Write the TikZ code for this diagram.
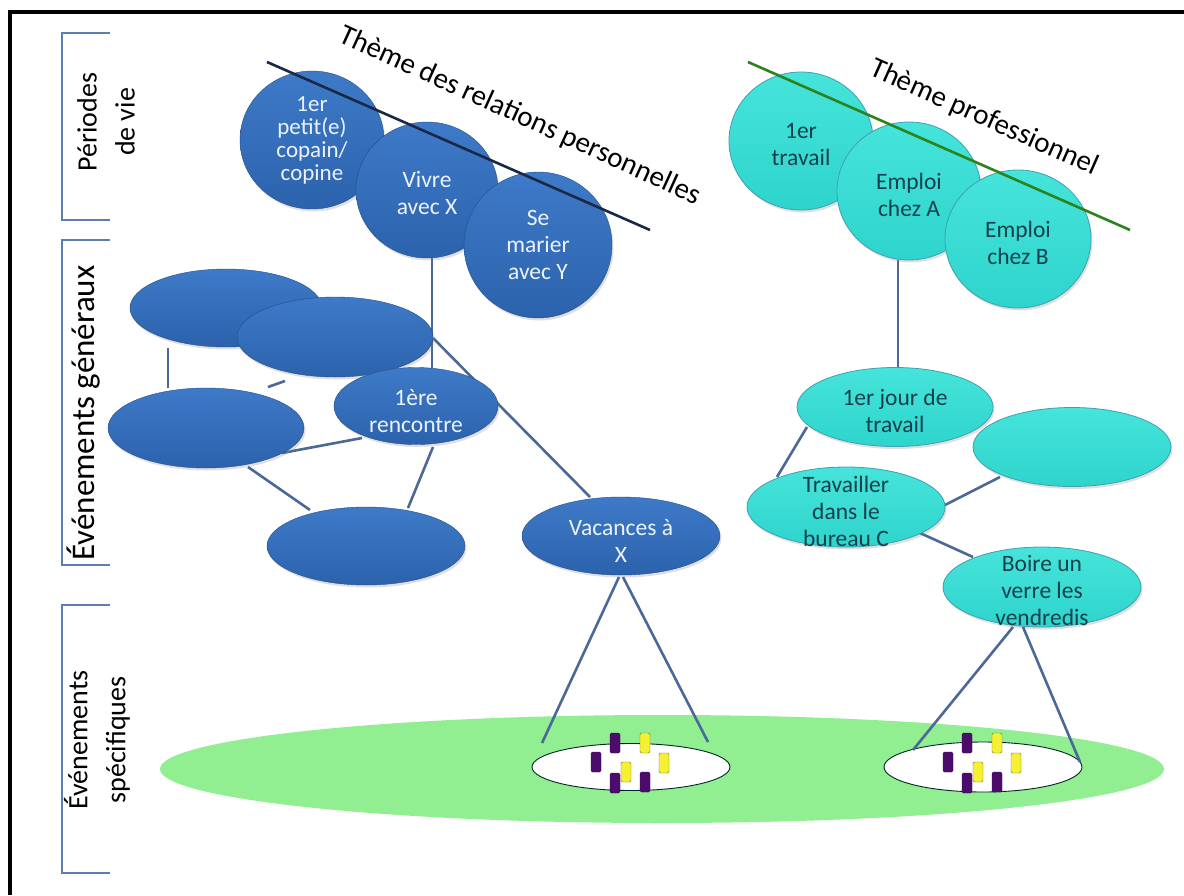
\documentclass[tikz,border=0pt]{standalone}
\usepackage{fontspec}
\setmainfont{Carlito}
\usetikzlibrary{shapes.geometric,calc,shadows}
\pgfdeclarelayer{back}
\pgfdeclarelayer{links}
\pgfsetlayers{back,links,main}

\definecolor{blueTop}{RGB}{62,122,200}
\definecolor{blueBot}{RGB}{44,98,172}
\definecolor{cyanTop}{RGB}{70,228,218}
\definecolor{cyanBot}{RGB}{46,212,204}
\definecolor{cyanEdge}{RGB}{62,160,178}
\definecolor{linkBlue}{RGB}{74,104,152}
\definecolor{braceBlue}{RGB}{92,126,176}
\definecolor{tealText}{RGB}{22,64,78}
\definecolor{paleText}{RGB}{236,243,252}
\definecolor{lawn}{RGB}{145,238,145}
\definecolor{plum}{RGB}{76,12,108}
\definecolor{lemon}{RGB}{246,240,50}
\definecolor{navyLine}{RGB}{26,40,72}
\definecolor{grassLine}{RGB}{44,130,30}

\begin{document}
\begin{tikzpicture}[x=1pt,y=-1pt,
  blob/.style={ellipse,inner sep=0pt,
    drop shadow={shadow xshift=1.5pt,shadow yshift=-2.5pt,opacity=0.25}},
  bluenode/.style={blob,top color=blueTop,bottom color=blueBot,draw=blueBot!80!black,line width=0.4pt},
  cyannode/.style={blob,top color=cyanTop,bottom color=cyanBot,draw=cyanEdge,line width=0.8pt},
  btext/.style={align=center,text=paleText,inner sep=0pt,font=\fontsize{23.5}{27}\selectfont},
  ctext/.style={align=center,text=tealText,inner sep=0pt,font=\fontsize{23.5}{27}\selectfont},
  conn/.style={draw=linkBlue,line width=2.6pt},
  brace/.style={draw=braceBlue,line width=2.6pt},
  side/.style={rotate=90,align=center,inner sep=0pt,font=\fontsize{28}{38}\selectfont},
  theme/.style={inner sep=0pt,font=\fontsize{29}{34}\selectfont},
  purplebar/.style={draw=plum!70!black,fill=plum,rounded corners=1.5pt,minimum width=10pt,minimum height=20pt,inner sep=0pt},
  yellowbar/.style={draw=olive!80!black,fill=lemon,rounded corners=1.5pt,minimum width=10pt,minimum height=20pt,inner sep=0pt},
  slot/.style={ellipse,draw=black!70!teal,line width=0.9pt,fill=white,inner sep=0pt}
]
\useasboundingbox (0,0) rectangle (1184,895);

% specific-event plane on the bottom layer
\begin{pgfonlayer}{back}
\fill[white] (0,0) rectangle (1184,895);
\node[ellipse,fill=lawn,minimum width=1004pt,minimum height=108pt,inner sep=0pt] (plane) at (662,769) {};
\end{pgfonlayer}

% frame
\draw[line width=4pt] (1184,12) -- (10,12) -- (10,895);

% side brackets and their labels
\draw[brace] (110,33) -- (62,33) -- (62,220) -- (110,220);
\draw[brace] (110,240) -- (62,240) -- (62,565) -- (110,565);
\draw[brace] (110,605) -- (62,605) -- (62,873) -- (110,873);
\node[side] (lblP) at (106,122) {Périodes\\de vie};
\node[side,font=\fontsize{33}{38}\selectfont] (lblG) at (84,413) {Événements généraux};
\node[side] (lblS) at (97,740) {Événements\\spécifiques};

% life periods, personal relationships
\node[bluenode,minimum width=144pt,minimum height=138pt,label={[btext,font=\fontsize{23}{23}\selectfont]center:{1er\\petit(e)\\copain/\\copine}}] (P1) at (312,140) {};
\node[bluenode,minimum width=142pt,minimum height=136pt,label={[btext,yshift=-3pt]center:{Vivre\\avec X}}] (P2) at (427,190) {};
\node[bluenode,minimum width=148pt,minimum height=146pt,label={[btext]center:{Se\\marier\\avec Y}}] (P3) at (538,245) {};

% life periods, work
\node[cyannode,minimum width=144pt,minimum height=138pt,label={[ctext,yshift=-4pt]center:{1er\\travail}}] (W1c) at (801,141) {};
\node[cyannode,minimum width=144pt,minimum height=138pt,label={[ctext,yshift=-4pt]center:{Emploi\\chez A}}] (W2c) at (909,191) {};
\node[cyannode,minimum width=146pt,minimum height=138pt,label={[ctext,yshift=-4pt]center:{Emploi\\chez B}}] (W3c) at (1018,239) {};

% theme lines and titles
\coordinate (nA) at (267,62);
\coordinate (nB) at (650,230);
\coordinate (gA) at (748,62);
\coordinate (gB) at (1130,230);
\draw[navyLine,line width=2.6pt] (nA) -- (nB);
\draw[grassLine,line width=2.6pt] (gA) -- (gB);
\node[theme,rotate=-24.5] (tRel) at (520,116) {Thème des relations personnelles};
\node[theme,rotate=-24] (tPro) at (984,118) {Thème professionnel};

% general events, personal relationships
\node[bluenode,minimum width=192pt,minimum height=78pt] (E1) at (226,308) {};
\node[bluenode,minimum width=196pt,minimum height=80pt] (E2) at (335,337) {};
\node[bluenode,minimum width=196pt,minimum height=80pt] (E3) at (206,428) {};
\node[bluenode,minimum width=164pt,minimum height=77pt,label={[btext,yshift=-5pt]center:{1ère\\rencontre}}] (R) at (416,406) {};
\node[bluenode,minimum width=198pt,minimum height=78pt] (E5) at (366,546) {};
\node[bluenode,minimum width=198pt,minimum height=78pt,label={[btext,yshift=-5pt]center:{Vacances à\\X}}] (V) at (621,536) {};

% general events, work
\node[cyannode,minimum width=196pt,minimum height=79pt,label={[ctext,yshift=-4pt]center:{1er jour de\\travail}}] (J) at (895,407) {};
\node[cyannode,minimum width=198pt,minimum height=79pt] (K) at (1072,447) {};
\node[cyannode,minimum width=198pt,minimum height=80pt,label={[ctext,yshift=-4pt]center:{Travailler\\dans le\\bureau C}}] (T) at (846,507) {};
\node[cyannode,minimum width=198pt,minimum height=80pt,label={[ctext,yshift=-3pt]center:{Boire un\\verre les\\vendredis}}] (B) at (1042,587) {};

% specific events
\node[slot,minimum width=198pt,minimum height=47pt] (S1) at (631,767) {};
\node[slot,minimum width=198pt,minimum height=50pt] (S2) at (983,767) {};
\foreach \s in {S1,S2}{
  \foreach \dx/\dy in {-16/-24,-35/-5,-16/16,14/15}
    \node[purplebar] at ($(\s.center)+(\dx,\dy)$) {};
  \foreach \dx/\dy in {14/-24,33/-4,-5/5}
    \node[yellowbar] at ($(\s.center)+(\dx,\dy)$) {};
}

% links
\begin{pgfonlayer}{links}
\draw[conn] ($(P2.center)+(5,68)$) -- ($(R.center)+(16,-38)$);
\draw[conn] ($(E2.center)+(98,1)$) -- ($(V.center)+(-31,-39)$);
\draw[conn] ($(R.center)+(-54,32)$) -- ($(E3.center)+(76,25)$);
\draw[conn] ($(R.center)+(17,41)$) -- ($(E5.center)+(42,-38)$);
\draw[conn] ($(E3.center)+(42,39)$) -- ($(E5.center)+(-56,-36)$);
\draw[conn] ($(E1.center)+(-58,40)$) -- ($(E3.center)+(-38,-40)$);
\draw[conn] ($(E3.center)+(62,-41)$) -- ($(E2.center)+(-50,44)$);
\draw[conn] ($(W2c.center)+(-11,69)$) -- ($(J.center)+(3,-39)$);
\draw[conn] ($(J.center)+(-88,20)$) -- ($(T.center)+(-69,-30)$);
\draw[conn] ($(K.center)+(-72,30)$) -- ($(T.center)+(99,-2)$);
\draw[conn] ($(T.center)+(74,26)$) -- ($(B.center)+(-69,-30)$);
\end{pgfonlayer}
\draw[conn] ($(V.center)+(-2,41)$) -- ($(S1.center)+(-89,-24)$);
\draw[conn] ($(V.center)+(2,41)$) -- ($(S1.center)+(77,-25)$);
\draw[conn] ($(B.center)+(-29,40)$) -- ($(S2.center)+(-70,-17)$);
\draw[conn] ($(B.center)+(-19,40)$) -- ($(S2.center)+(97,-5)$);
\end{tikzpicture}
\end{document}
